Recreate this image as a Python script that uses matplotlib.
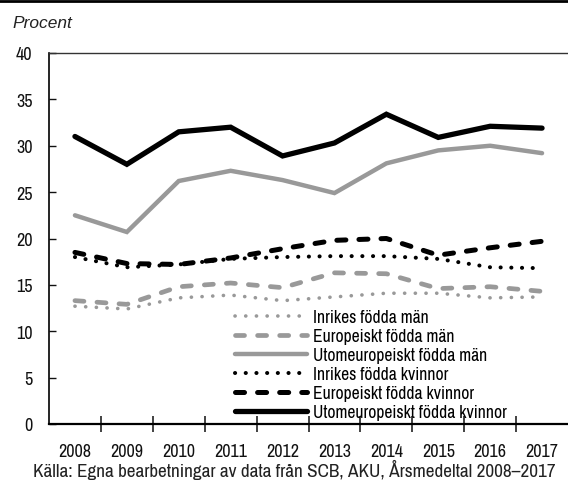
import matplotlib
matplotlib.use("Agg")
import matplotlib.pyplot as plt
from matplotlib import font_manager
from matplotlib.lines import Line2D

years = ["2008", "2009", "2010", "2011", "2012", "2013", "2014", "2015", "2016", "2017"]
inrikes_man = [12.7, 12.4, 13.6, 13.9, 13.3, 13.7, 14.1, 14.1, 13.6, 13.7]
europ_man = [13.3, 12.9, 14.8, 15.2, 14.7, 16.3, 16.2, 14.6, 14.8, 14.3]
utom_man = [22.5, 20.7, 26.2, 27.3, 26.3, 24.9, 28.1, 29.5, 30.0, 29.2]
inrikes_kv = [18.0, 16.9, 17.2, 17.8, 18.0, 18.1, 18.1, 17.8, 16.9, 16.8]
europ_kv = [18.5, 17.3, 17.2, 17.9, 18.9, 19.8, 20.0, 18.2, 19.0, 19.7]
utom_kv = [31.0, 28.0, 31.5, 32.0, 28.9, 30.3, 33.4, 30.9, 32.1, 31.9]
labels = ["Inrikes födda män", "Europeiskt födda män", "Utomeuropeiskt födda män",
          "Inrikes födda kvinnor", "Europeiskt födda kvinnor", "Utomeuropeiskt födda kvinnor"]
yticks = [0, 5, 10, 15, 20, 25, 30, 35, 40]
caption = "Källa: Egna bearbetningar av data från SCB, AKU, Årsmedeltal 2008–2017"

names = {f.name for f in font_manager.fontManager.ttflist}
cond_names = [n for n in names if ("Narrow" in n or "Condensed" in n)]
if "Liberation Sans Narrow" in names:
    COND = dict(family="Liberation Sans Narrow")
elif cond_names:
    COND = dict(family=sorted(cond_names)[0])
else:
    COND = dict(family="DejaVu Sans", stretch="condensed")

plt.rcParams["lines.scale_dashes"] = False
plt.rcParams["font.family"] = COND["family"]
if "stretch" in COND:
    plt.rcParams["font.stretch"] = COND["stretch"]

GRAY = "#999999"
BLACK = "#000000"
DPI = 100
fig = plt.figure(figsize=(5.68, 4.81), dpi=DPI)
renderer = fig.canvas.get_renderer()


def measure(s, size, **kw):
    t = fig.text(0, 0, s, fontsize=size, **kw)
    bb = t.get_window_extent(renderer)
    t.remove()
    return bb.width, bb.height


def fit(s, target_px, **kw):
    w, _ = measure(s, 10, **kw)
    return 10 * target_px / w


tick_fs = fit("2008", 32.5)
leg_fs = fit(labels[-1], 194)
cap_fs = fit(caption, 524)
proc_fs = fit("Procent", 60, family="Liberation Sans", style="italic")

ax = fig.add_axes([49/568, 56/481, 1 - 49/568, (425-54)/481])

x = list(range(len(years)))
dot = (0, (0.1, 7.6))
dash = (0, (6.5, 9.4))
styles = [
    (inrikes_man, GRAY, 2.6, dot),
    (europ_man, GRAY, 3.4, dash),
    (utom_man, GRAY, 3.2, "-"),
    (inrikes_kv, BLACK, 2.9, dot),
    (europ_kv, BLACK, 3.6, dash),
    (utom_kv, BLACK, 3.8, "-"),
]
for (vals, col, lw, ls), lab in zip(styles, labels):
    ax.plot(x, vals, color=col, lw=lw, linestyle=ls, label=lab,
            dash_capstyle="round", solid_capstyle="round", solid_joinstyle="miter")

ax.set_xlim(-0.5, 9.5)
ax.set_ylim(0, 40)
ax.set_yticks(yticks)
ax.set_yticklabels([str(v) for v in yticks])
ax.tick_params(axis="y", direction="in", length=5, width=1, labelsize=tick_fs, pad=11.8, colors="#111111")
ax.set_xticks([i + 0.5 for i in range(9)])
ax.set_xticklabels([])
ax.set_xticks(x, minor=True)
ax.set_xticklabels(years, minor=True)
ax.tick_params(axis="x", which="major", direction="inout", length=11, width=1.2, color="#222222")
ax.tick_params(axis="x", which="minor", length=0, labelsize=tick_fs, pad=13.5, colors="#111111")

ax.spines["right"].set_visible(False)
ax.spines["top"].set_linewidth(1.0)
ax.spines["top"].set_color("#333333")
ax.spines["left"].set_linewidth(1.2)
ax.spines["bottom"].set_linewidth(1.6)

fs_px = leg_fs * DPI / 72
_, th = measure(labels[0], leg_fs)
row_pitch = 19.0
lspace = max((row_pitch - th) / fs_px, 0.0)
top_px = 318.3 - th / 2
leg = ax.legend(loc="upper left", bbox_to_anchor=((235-49)/520, (425-top_px)/371),
                frameon=False, fontsize=leg_fs, handlelength=72/fs_px, handletextpad=6/fs_px,
                labelspacing=lspace, borderaxespad=0, borderpad=0)

fig.add_artist(Line2D([0, 1], [1 - 1.5/481, 1 - 1.5/481], color="black", lw=2))
fig.text(12/568, 1 - 23/481, "Procent", family="Liberation Sans", style="italic",
         fontsize=proc_fs, va="center", ha="left", color="#222222")
fig.text(33/568, 1 - 470/481, caption,
         fontsize=cap_fs, va="center", ha="left", color="#222222")

fig.savefig("out.png", dpi=DPI)
